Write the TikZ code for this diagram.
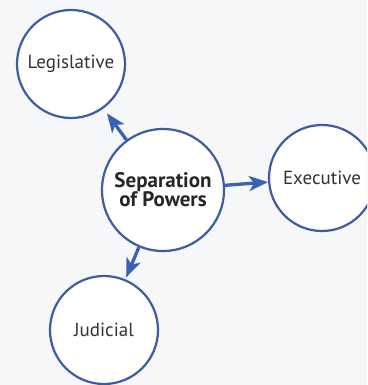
\documentclass[tikz,border=0pt]{standalone}
\usepackage{fontspec}
\setmainfont{PT Sans}
\usetikzlibrary{arrows.meta,shadows}
\definecolor{ringblue}{HTML}{3E5C9E}
\definecolor{arrowblue}{HTML}{3A62B4}
\definecolor{inkgray}{HTML}{333333}
\definecolor{paper}{HTML}{F6F7F9}
\begin{document}
\begin{tikzpicture}[
    x=1pt, y=-1pt,
    power/.style={circle, draw=ringblue, line width=2.2pt, fill=white, minimum size=108pt, inner sep=0pt,
      font=\fontsize{19}{21}\selectfont, text=inkgray, align=center,
      drop shadow={shadow xshift=0.6pt, shadow yshift=-0.6pt, opacity=0.35, fill=black!60}},
    hub/.style={power, minimum size=122pt, font=\fontsize{21}{22}\selectfont\bfseries, text=black!85},
    link/.style={-{Stealth[length=19pt, width=15pt, inset=5pt]}, line width=3.3pt, draw=arrowblue},
  ]
    \clip (0,0) rectangle (367,385);
    \fill[paper] (0,0) rectangle (367,385);

    % Branches
    \node[hub] (sep) at (163,190) {Separation\\[-3pt]of Powers};
    \node[power] (leg) at (71,64) {Legislative};
    \node[power, minimum size=106pt] (exe) at (322,178) {Executive};
    \node[power] (jud) at (104,330) {Judicial};

    % Arrows out of the hub
    \draw[link, shorten >=6pt] (sep) -- (leg);
    \draw[link] (sep) -- (exe);
    \draw[link, shorten >=2pt] (sep) -- (jud);
  \end{tikzpicture}
\end{document}
